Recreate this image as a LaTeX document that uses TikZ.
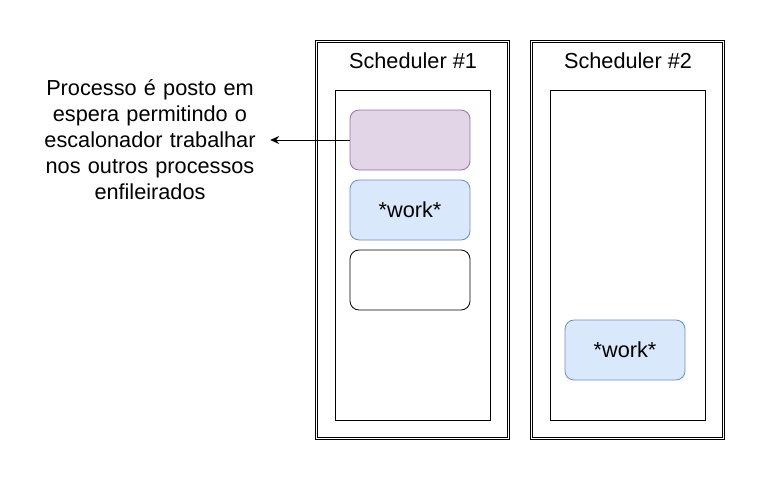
\documentclass[tikz,border=0pt]{standalone}
\usepackage{fontspec}
\setmainfont{Liberation Sans}
\usetikzlibrary{arrows.meta}
\definecolor{purplefill}{HTML}{E1D5E7}
\definecolor{purpleline}{HTML}{9673A6}
\definecolor{bluefill}{HTML}{DAE8FC}
\definecolor{blueline}{HTML}{6C8EBF}
\begin{document}
\begin{tikzpicture}[x=1pt,y=-1pt,
  sched/.style={draw=black, double=white, double distance=1.5pt, line width=0.8pt,
    minimum width=192.4pt, minimum height=397.4pt, inner sep=0pt},
  lane/.style={draw=black, line width=1pt, minimum width=155pt, minimum height=330pt, inner sep=0pt},
  task/.style={rounded corners=9pt, line width=0.8pt, minimum width=120pt, minimum height=60pt,
    inner sep=0pt, font=\fontsize{21.7}{26}\selectfont},
  waiting/.style={task, draw=purpleline, fill=purplefill},
  running/.style={task, draw=blueline, fill=bluefill},
  empty/.style={task, draw=black, fill=white},
  title/.style={font=\fontsize{21.7}{26}\selectfont, inner sep=0pt},
  note/.style={font=\fontsize{21.7}{26}\selectfont, align=center, text width=240pt, inner sep=0pt},
  link/.style={line width=1pt, -{Stealth[length=9pt, width=8pt, inset=3pt]}}
]
\useasboundingbox (0,0) rectangle (781,501);
\node[sched] (s1) at (412.5,240) {};
\node[sched] (s2) at (627.5,240) {};
\node[title] (t1) at (413,61) {Scheduler \#1};
\node[title] (t2) at (628,61) {Scheduler \#2};
\node[lane] (l1) at (412.5,255) {};
\node[lane] (l2) at (627.5,255) {};
\node[waiting] (p1) at (410,140) {};
\node[running] (w1) at (410,210) {*work*};
\node[empty] (e1) at (410,280) {};
\node[running] (w2) at (625,350) {*work*};
\node[note] (txt) at (150,140) {Processo é posto em\\espera permitindo o\\escalonador trabalhar\\nos outros processos\\enfileirados};
\draw[link] (p1.west) -- (txt.east);
\end{tikzpicture}
\end{document}
